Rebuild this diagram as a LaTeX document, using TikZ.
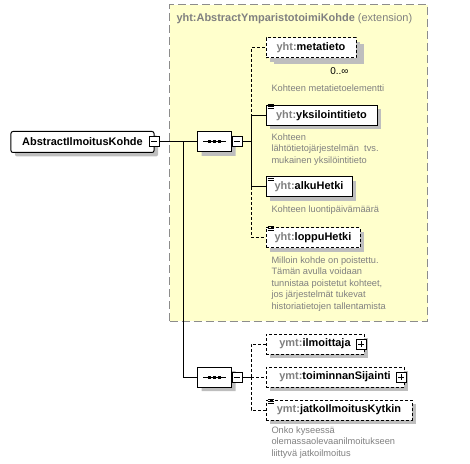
\documentclass[tikz,border=0pt]{standalone}
\usepackage{fontspec}
\setmainfont{Liberation Sans}
\usetikzlibrary{shapes.misc,shadows}
\definecolor{extfill}{HTML}{FFFFCC}
\definecolor{extborder}{HTML}{8C8C8C}
\definecolor{greytext}{HTML}{808080}
\definecolor{shadowgray}{HTML}{BEBEBE}
\newcommand\pfx[1]{\textcolor{greytext}{#1:}}

\begin{document}
\begin{tikzpicture}
      [x=1bp,y=-1bp,line width=1bp,
       every node/.style={font=\fontsize{11}{13}\selectfont\bfseries,inner sep=0pt},
       shad/.style={drop shadow={shadow xshift=4bp,shadow yshift=-4bp,fill=shadowgray,opacity=1}},
       elem/.style={draw,fill=white,minimum height=20bp,shad},
       optelem/.style={elem,dash pattern=on 3bp off 2bp},
       optline/.style={dash pattern=on 3bp off 2bp},
       seq/.style={chamfered rectangle,chamfered rectangle sep=6bp,draw,fill=white,
                   minimum width=34bp,minimum height=20bp,shad},
       minusbox/.style={draw,fill=white,minimum size=10bp,
                   path picture={\draw ([xshift=2bp]path picture bounding box.west)
                                    -- ([xshift=-2bp]path picture bounding box.east);}},
       plusbox/.style={draw,fill=white,minimum size=10bp,
                   path picture={\draw ([xshift=2bp]path picture bounding box.west)
                                    -- ([xshift=-2bp]path picture bounding box.east)
                                    ([yshift=-2bp]path picture bounding box.north)
                                    -- ([yshift=2bp]path picture bounding box.south);}},
       comm/.style={anchor=north west,align=left,text=greytext,
                   font=\fontsize{9.3}{11.5}\selectfont}]
	\useasboundingbox (0,0) rectangle (470,464);

	\node (ext) [draw=extborder,fill=extfill,dash pattern=on 8bp off 4bp,
	             minimum width=258bp,minimum height=316bp] at (298.5,163) {};
	\node (extitle) [anchor=west,text=greytext] at (176,19)
	      {yht:AbstractYmparistotoimiKohde {\mdseries(extension)}};

	\node (root) [elem,rounded corners=2bp,minimum width=143bp,minimum height=21bp] at (82.5,142) {AbstractIlmoitusKohde};
	\node (rm)   [minusbox] at (154,142) {};

	\node (s1)  [seq]      at (214.5,142) {};
	\node (s1m) [minusbox] at (237,142)   {};
	\node (s2)  [seq]      at (214.5,377) {};
	\node (s2m) [minusbox] at (237,377)   {};

	\node (meta)  [optelem,minimum width=90bp,
	               drop shadow={shadow xshift=8bp,shadow yshift=-6bp,fill=shadowgray,opacity=1}]
	               at (311,48)    {\pfx{yht}metatieto};
	\node (yks)   [elem,minimum width=111bp]   at (321.5,115.5) {\pfx{yht}yksilointitieto};
	\node (alku)  [elem,minimum width=86bp]    at (309,187)     {\pfx{yht}alkuHetki};
	\node (loppu) [optelem,minimum width=94bp] at (313,237.5)   {\pfx{yht}loppuHetki};
	\node (ilmo)  [optelem,minimum width=98bp] at (315,344)     {\pfx{ymt}ilmoittaja\hspace{12bp}};
	\node (toim)  [optelem,minimum width=138bp] at (335,377)    {\pfx{ymt}toiminnanSijainti\hspace{12bp}};
	\node (jatko) [optelem,minimum width=146bp] at (339,410)    {\pfx{ymt}jatkoIlmoitusKytkin};
	\node (ilmop) [plusbox] at (361,344) {};
	\node (toimp) [plusbox] at (401,377) {};

	\node (mult) [anchor=east,font=\fontsize{10}{12}\selectfont] at (349,71) {0..∞};

	\node (cmeta)  [comm] at (271,84)  {Kohteen metatietoelementti};
	\node (cyks)   [comm] at (271,133) {Kohteen\\lähtötietojärjestelmän\ \ tvs.\\mukainen yksilöintitieto};
	\node (calku)  [comm] at (271,205) {Kohteen luontipäivämäärä};
	\node (cloppu) [comm] at (271,256) {Milloin kohde on poistettu.\\Tämän avulla voidaan\\tunnistaa poistetut kohteet,\\jos järjestelmät tukevat\\historiatietojen tallentamista};
	\node (cjatko) [comm] at (271,426) {Onko kyseessä\\olemassaolevaanilmoitukseen\\liittyvä jatkoilmoitus};

	\coordinate (j)  at (183,142);
	\coordinate (b1) at (251,142);
	\coordinate (b2) at (251,377);

	\draw (rm) -- (s1);
	\draw (j) |- (s2);
	\draw (s1m) -- (b1);
	\draw (s2m) -- (b2);
	\foreach \n in {yks,alku}
	  \draw (b1) |- (\n);
	\foreach \n in {meta,loppu}
	  \draw[optline] (b1) |- (\n);
	\foreach \n in {ilmo,toim,jatko}
	  \draw[optline] (b2) |- (\n);

	\foreach \s in {s1,s2} {
	  \draw ([xshift=6bp]\s.west) -- ([xshift=-6bp]\s.east);
	  \foreach \dx in {-5,0,5}
	    \fill (\s.center) ++(\dx,0) +(-1.5,-1.5) rectangle +(1.5,1.5);
	}

	% simple type marks
	\foreach \n in {yks,alku,loppu,jatko}
	  \foreach \d in {-0.5,1.5,3.5}
	    \draw[line width=0.8bp] ([shift={(2,\d)}]\n.north west) -- ++(6,0);
      \end{tikzpicture}
\end{document}
